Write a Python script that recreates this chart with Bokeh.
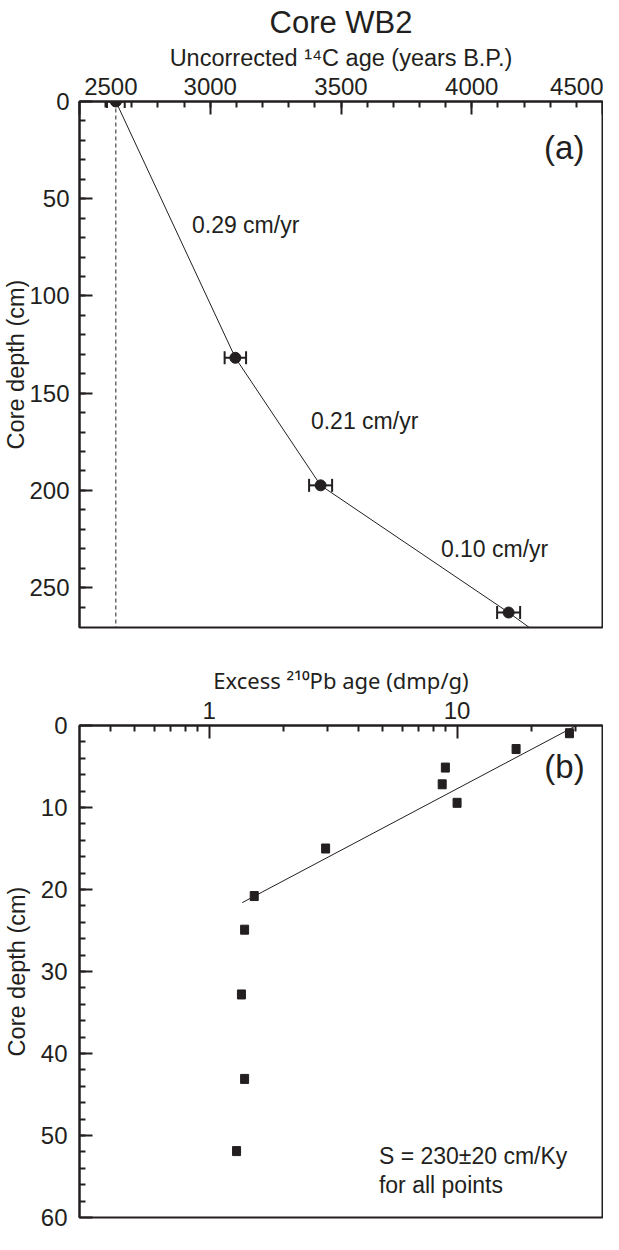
from bokeh.plotting import figure
from bokeh.layouts import column
from bokeh.models import (Range1d, FixedTicker, Whisker, TeeHead, ColumnDataSource,
                          Span, BasicTickFormatter, LinearAxis)
from bokeh.core.properties import value
from bokeh.embed import file_html
from bokeh.resources import INLINE

FONT = "Liberation Sans"
INK = "#231f20"

# ---------------- Panel (a): 14C ages ----------------
c14_age = [2639, 3096, 3422, 4141]          # years B.P.
c14_depth = [0, 131.8, 197.4, 262.8]        # cm
c14_err = [34, 41, 44, 44]                  # years
model_age = [2639, 3096, 3422, 4141, 4220]  # age-depth model line
model_depth = [0, 131.8, 197.4, 262.8, 270.5]
base_age = 2639
rate_labels = ["0.29 cm/yr", "0.21 cm/yr", "0.10 cm/yr"]
c14_ticks = [2500, 3000, 3500, 4000, 4500]
c14_tick_labels = ["2500", "3000", "3500", "4000", "4500"]
depth_ticks_a = [0, 50, 100, 150, 200, 250]

# ---------------- Panel (b): excess 210Pb ----------------
pb_activity = [28.4, 17.3, 8.97, 8.71, 10.0, 2.95, 1.52, 1.39, 1.35, 1.39, 1.29]
pb_depth = [0.94, 2.87, 5.13, 7.17, 9.43, 15.0, 20.8, 24.9, 32.8, 43.1, 51.9]
fit_activity = [1.36, 30.3]
fit_depth = [21.6, 0.0]
pb_ticks = [1, 10]
pb_minor = [0.4, 0.5, 0.6, 0.7, 0.8, 0.9, 2, 3, 4, 5, 6, 7, 8, 9, 20, 30]
depth_ticks_b = [0, 10, 20, 30, 40, 50, 60]
note_lines = ["S = 230\u00b120 cm/Ky", "for all points"]

TICK_FS = "24px"
LABEL_FS = "23.5px"
TEXT_FS = "23px"
PANEL_FS = "33px"


def style_axis(ax, standoff):
    ax.axis_line_color = INK
    ax.axis_line_width = 2
    ax.major_tick_line_color = INK
    ax.major_tick_line_width = 2
    ax.minor_tick_line_color = INK
    ax.minor_tick_line_width = 2
    ax.major_tick_in = 13
    ax.major_tick_out = 0
    ax.minor_tick_in = 6
    ax.minor_tick_out = 0
    ax.major_label_text_font = FONT
    ax.major_label_text_font_size = TICK_FS
    ax.major_label_text_color = INK
    ax.axis_label_text_font = FONT
    ax.axis_label_text_font_size = LABEL_FS
    ax.axis_label_text_font_style = "normal"
    ax.axis_label_text_color = INK
    ax.major_label_standoff = standoff


def style_fig(p):
    p.grid.visible = False
    p.outline_line_color = INK
    p.outline_line_width = 2
    p.background_fill_color = "white"
    p.border_fill_color = "white"


# ---------- figure (a) ----------
pa = figure(width=603, height=630, output_backend="svg", toolbar_location=None,
            x_range=Range1d(2500, 4500), y_range=Range1d(270.5, 0),
            x_axis_location="above", title="Core WB2",
            min_border_left=78, min_border_right=1, min_border_top=100,
            min_border_bottom=3)
style_fig(pa)
pa.title.align = "center"
pa.title.text_font = FONT
pa.title.text_font_size = "31px"
pa.title.text_font_style = "normal"
pa.title.text_color = INK
pa.title.standoff = 4

# axis next to the frame: tick marks only (its labels are not drawn)
tick_ax = pa.xaxis[0]
tick_ax.ticker = FixedTicker(ticks=c14_ticks, minor_ticks=list(range(2600, 4500, 100)))
style_axis(tick_ax, 0)
tick_ax.major_label_text_font_size = "1px"
tick_ax.major_label_text_color = None

# outer axis: tick labels (edge labels nudged inward as in the original) + axis title
label_ax = LinearAxis(ticker=FixedTicker(ticks=[2620, 3000, 3500, 4000, 4412], minor_ticks=[]),
                      major_label_overrides={2620: c14_tick_labels[0], 4412: c14_tick_labels[-1]},
                      axis_label="Uncorrected \u00b9\u2074C age (years B.P.)")
style_axis(label_ax, 7)
label_ax.axis_line_color = None
label_ax.major_tick_line_color = None
label_ax.minor_tick_line_color = None
label_ax.major_tick_in = 0
label_ax.minor_tick_in = 0
label_ax.axis_label_standoff = 4
pa.add_layout(label_ax, "above")

pa.yaxis.ticker = FixedTicker(ticks=depth_ticks_a, minor_ticks=list(range(10, 270, 10)))
pa.yaxis.axis_label = "Core depth (cm)"
style_axis(pa.yaxis[0], 10)
pa.yaxis.axis_label_standoff = -3

pa.add_layout(Span(location=base_age, dimension="height", line_color=INK,
                   line_width=1, line_dash="4 3"))
pa.line(model_age, model_depth, line_color=INK, line_width=1)

src_a = ColumnDataSource(dict(age=c14_age, depth=c14_depth,
                              lo=[a - e for a, e in zip(c14_age, c14_err)],
                              hi=[a + e for a, e in zip(c14_age, c14_err)]))
pa.add_layout(Whisker(source=src_a, base="depth", lower="lo", upper="hi",
                      dimension="width", line_color=INK, line_width=2,
                      upper_head=TeeHead(size=13, line_color=INK, line_width=2),
                      lower_head=TeeHead(size=13, line_color=INK, line_width=2)))
pa.scatter("age", "depth", source=src_a, marker="circle", size=11,
           fill_color=INK, line_color=INK)

rate_x = [2930, 3385, 3882]
rate_y = [63.5, 164.5, 230.0]
pa.text(x=rate_x, y=rate_y, text=rate_labels, text_font=value(FONT),
        text_font_size=TEXT_FS, text_color=INK, text_align="left",
        text_baseline="middle")
pa.text(x=[4431], y=[23.6], text=["(a)"], text_font=value(FONT),
        text_font_size=PANEL_FS, text_color=INK, text_align="right",
        text_baseline="middle")

# ---------- figure (b) ----------
pb = figure(width=603, height=604, output_backend="svg", toolbar_location=None,
            x_axis_type="log", x_range=Range1d(0.3, 38.6), y_range=Range1d(60, 0),
            x_axis_location="above",
            min_border_left=78, min_border_right=1, min_border_top=95,
            min_border_bottom=17)
style_fig(pb)
pb.xaxis.ticker = FixedTicker(ticks=pb_ticks, minor_ticks=pb_minor)
pb.xaxis.formatter = BasicTickFormatter()
pb.xaxis.major_label_overrides = {1: "1", 10: "10"}
pb.xaxis.axis_label = "Excess \u00b2\u00b9\u2070Pb age (dmp/g)"
style_axis(pb.xaxis[0], 7)
pb.xaxis.axis_label_text_font = "Noto Sans"
pb.xaxis.axis_label_text_font_size = "22px"
pb.xaxis.axis_label_standoff = 4

pb.yaxis.ticker = FixedTicker(ticks=depth_ticks_b, minor_ticks=list(range(2, 60, 2)))
pb.yaxis.axis_label = "Core depth (cm)"
style_axis(pb.yaxis[0], 12)
pb.yaxis.axis_label_standoff = 8

pb.line(fit_activity, fit_depth, line_color=INK, line_width=1)
pb.rect(x=pb_activity, y=pb_depth, width=8, height=9, width_units="screen",
        height_units="screen", fill_color=INK, line_color=INK)

pb.text(x=[4.84, 4.84], y=[52.5, 56.0], text=note_lines, text_font=value(FONT),
        text_font_size=TEXT_FS, text_color=INK, text_align="left",
        text_baseline="middle")
pb.text(x=[32.7], y=[5.0], text=["(b)"], text_font=value(FONT),
        text_font_size=PANEL_FS, text_color=INK, text_align="right",
        text_baseline="middle")

layout = column(pa, pb, spacing=0)
open("out.html", "w").write(file_html(layout, INLINE))
